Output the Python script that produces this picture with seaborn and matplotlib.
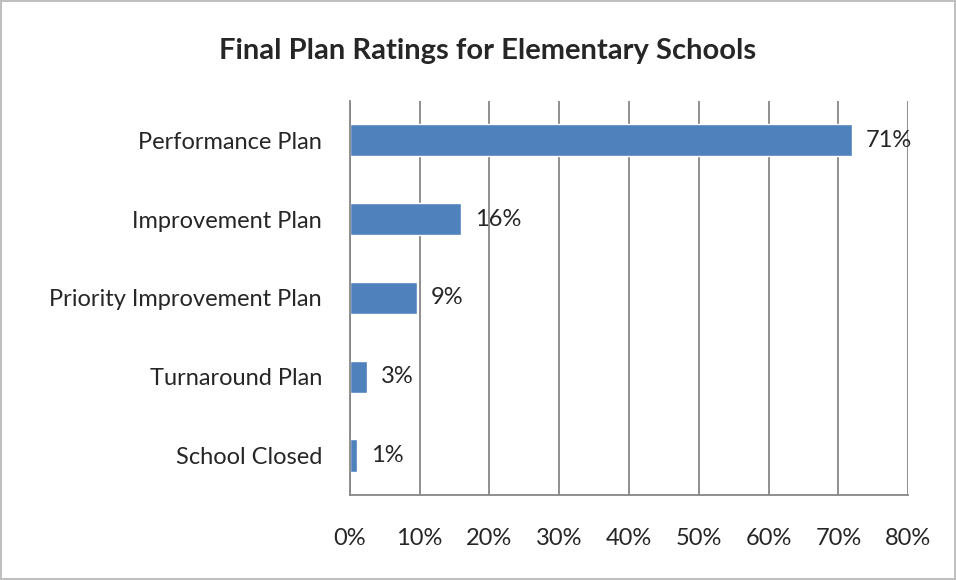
import pandas as pd
import seaborn as sns
import matplotlib.pyplot as plt

# Chart values (percent of elementary schools)
categories = [
    "Performance Plan",
    "Improvement Plan",
    "Priority Improvement Plan",
    "Turnaround Plan",
    "School Closed",
]
shares = [71.9, 15.9, 9.6, 2.4, 1.0]
share_labels = ["71%", "16%", "9%", "3%", "1%"]
x_ticks = [0, 10, 20, 30, 40, 50, 60, 70, 80]

df = pd.DataFrame({"category": categories, "share": shares})

sns.set_style("white")
plt.rcParams["font.family"] = ["Lato", "DejaVu Sans"]

fig = plt.figure(figsize=(9.56, 5.8), dpi=100)
fig.patch.set_edgecolor("#bfbfbf")
fig.patch.set_linewidth(1.5)
ax = fig.add_axes([0.366, 0.1466, 0.584, 0.6794])

grid_color = "#868686"
fs = 17

sns.barplot(data=df, x="share", y="category", orient="h",
            color="#4F81BD", saturation=1, width=0.41, ax=ax)

ax.bar_label(ax.containers[0], labels=share_labels, padding=10, fontsize=fs)

ax.set_xlim(0, 80)
ax.set_ylim(len(categories) - 0.5, -0.5)
ax.set_xticks(x_ticks)
ax.set_xticklabels([f"{t}%" for t in x_ticks], fontsize=fs)
ax.tick_params(axis="x", length=5, color=grid_color, width=1.2, pad=19)
ax.tick_params(axis="y", which="major", length=0, labelsize=fs, pad=20)
ax.set_yticks([i - 0.5 for i in range(len(categories) + 1)], minor=True)
ax.tick_params(axis="y", which="minor", length=5, color=grid_color, width=1.2)

ax.xaxis.grid(True, color=grid_color, linewidth=1.3)
ax.set_axisbelow(True)
ax.set_xlabel("")
ax.set_ylabel("")

for side in ["top", "right"]:
    ax.spines[side].set_visible(False)
for side in ["left", "bottom"]:
    ax.spines[side].set_color(grid_color)
    ax.spines[side].set_linewidth(1.3)

fig.suptitle("Final Plan Ratings for Elementary Schools", fontsize=21,
             fontweight="bold", x=0.51, y=0.935)

fig.savefig("out.png", dpi=100, edgecolor=fig.get_edgecolor())
